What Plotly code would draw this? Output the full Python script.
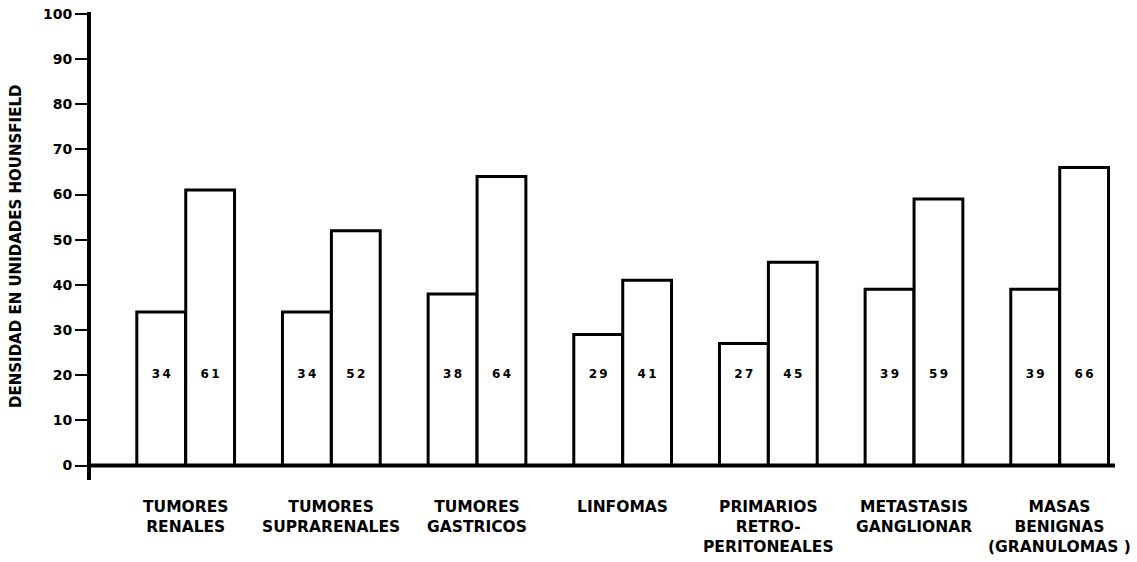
import plotly.graph_objects as go

categories = ["TUMORES<br>RENALES", "TUMORES<br>SUPRARENALES", "TUMORES<br>GASTRICOS",
              "LINFOMAS", "PRIMARIOS<br>RETRO-<br>PERITONEALES", "METASTASIS<br>GANGLIONAR",
              "MASAS<br>BENIGNAS<br>(GRANULOMAS )"]
pre_values = [34, 34, 38, 29, 27, 39, 39]
post_values = [61, 52, 64, 41, 45, 59, 66]
y_ticks = [0, 10, 20, 30, 40, 50, 60, 70, 80, 90, 100]
y_title = "DENSIDAD EN UNIDADES HOUNSFIELD"

FONT = "DejaVu Sans"
idx = list(range(len(categories)))
off = 0.168
w = 0.335
xl = [i - off for i in idx]
xr = [i + off for i in idx]

fig = go.Figure()
for xs, vals in ((xl, pre_values), (xr, post_values)):
    fig.add_trace(go.Bar(x=xs, y=vals, width=w, marker=dict(color="white", line=dict(color="black", width=3)),
                         showlegend=False, hoverinfo="skip"))
    fig.add_trace(go.Scatter(x=xs, y=[20] * len(vals), mode="text",
                             text=["\u2009".join(str(v)) for v in vals],
                             textfont=dict(family=FONT, size=12, color="black", weight="bold"),
                             showlegend=False, hoverinfo="skip"))

for i, c in zip(idx, categories):
    fig.add_annotation(x=i, y=-0.034, xref="x", yref="paper", text=c, showarrow=False,
                       yanchor="top", xanchor="center", align="center",
                       font=dict(family=FONT, size=15.5, color="black", weight="bold"))

fig.add_annotation(x=-0.084, y=0.5, xref="paper", yref="paper", text=y_title, showarrow=False,
                   textangle=-90, font=dict(family=FONT, size=15, color="black", weight="bold"))

fig.add_shape(type="line", xref="paper", yref="y", x0=0, x1=1, y0=0, y1=0,
              line=dict(color="black", width=4))

fig.update_xaxes(range=[-0.65, 6.38], showticklabels=False, showgrid=False, zeroline=False,
                 showline=False, ticks="", automargin=False)
fig.update_yaxes(range=[-3.2, 100.4], tickvals=y_ticks, ticktext=[str(t) for t in y_ticks],
                 showgrid=False, zeroline=False, showline=True, linecolor="black", linewidth=4,
                 ticks="outside", ticklen=12, tickwidth=2, tickcolor="black", automargin=False,
                 tickfont=dict(family=FONT, size=14, color="black", weight="bold"))

fig.update_layout(width=1137, height=562, plot_bgcolor="white", paper_bgcolor="white",
                  margin=dict(l=91, r=22, t=12, b=82), barmode="overlay")

fig.write_html("out.html", config={"displayModeBar": False},
               post_script="document.body.style.margin='0px';")
